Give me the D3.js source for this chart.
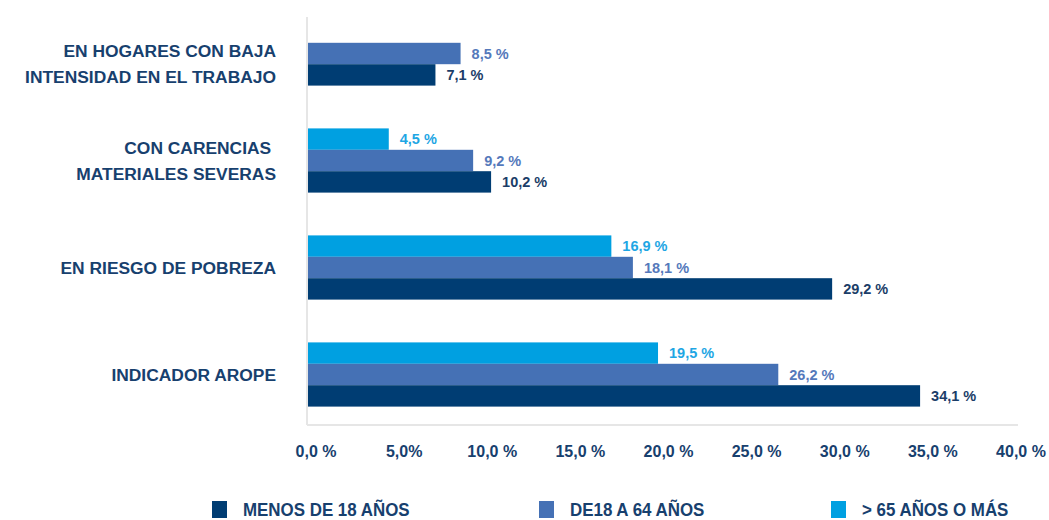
<!DOCTYPE html>
<html>
<head>
<meta charset="utf-8">
<script src="https://cdn.jsdelivr.net/npm/d3@7"></script>
<style>
  body { margin: 0; background: #fff; }
  svg text { font-family: "Liberation Sans", Arial, sans-serif; font-weight: bold; }
</style>
</head>
<body>
<div id="content"></div>
<script>
// categories, top to bottom (each label split into lines)
var categories = ["hogares", "carencias", "pobreza", "arope"];
var categoryLines = [
    ["EN HOGARES CON BAJA", "INTENSIDAD EN EL TRABAJO"],
    ["CON CARENCIAS ", "MATERIALES SEVERAS"],
    ["EN RIESGO DE POBREZA"],
    ["INDICADOR AROPE"]
];

// series values (%), null = no bar
var seriesNames = ["> 65 AÑOS O MÁS", "DE18 A 64 AÑOS", "MENOS DE 18 AÑOS"];
var mayores65 = [null, 4.5, 16.9, 19.5];
var de18a64 = [8.5, 9.2, 18.1, 26.2];
var menos18 = [7.1, 10.2, 29.2, 34.1];

var xTicks = [0, 5, 10, 15, 20, 25, 30, 35, 40];
var xTickLabels = ["0,0 %", "5,0%", "10,0 %", "15,0 %", "20,0 %", "25,0 %", "30,0 %", "35,0 %", "40,0 %"];

var barColors = ["#00a0e1", "#4571b5", "#003d73"];
var labelColors = ["#1ea6e4", "#5579bb", "#1b3d68"];
var textColor = "#17406e";

var width = 1049, height = 520;
var svg = d3.select("#content").append("svg")
    .attr("width", width)
    .attr("height", height);

var xScale = d3.scaleLinear().domain([0, 40]).range([308, 1026]);
// tick labels sit on a slightly narrower span than the bars
var tickScale = xScale.copy().range([316, 1021]);
var yScale = d3.scaleBand().domain(categories).range([0, 428])
    .paddingInner(0.4).paddingOuter(0.2);
var subScale = d3.scaleBand().domain(d3.range(3)).range([0, yScale.bandwidth()]);

// plot frame (left + bottom)
svg.append("line")
    .attr("x1", 307).attr("x2", 307).attr("y1", 17).attr("y2", 425)
    .attr("stroke", "#e6e6e6").attr("stroke-width", 2);
svg.append("line")
    .attr("x1", 307).attr("x2", 1018).attr("y1", 425).attr("y2", 425)
    .attr("stroke", "#e6e6e6").attr("stroke-width", 2);

var allSeries = [mayores65, de18a64, menos18];
var rows = [];
allSeries.forEach(function (values, s) {
    values.forEach(function (v, i) {
        if (v != null) rows.push({ s: s, cat: categories[i], v: v });
    });
});

svg.append("g").selectAll("rect")
    .data(rows)
    .enter()
    .append("rect")
    .attr("x", xScale(0))
    .attr("y", function (d) { return yScale(d.cat) + subScale(d.s); })
    .attr("width", function (d) { return xScale(d.v) - xScale(0); })
    .attr("height", subScale.bandwidth())
    .attr("fill", function (d) { return barColors[d.s]; });

svg.append("g").selectAll("text")
    .data(rows)
    .enter()
    .append("text")
    .attr("x", function (d) { return xScale(d.v) + 11; })
    .attr("y", function (d) { return yScale(d.cat) + subScale(d.s) + subScale.bandwidth() / 2 + 5; })
    .attr("font-size", 14.5)
    .attr("fill", function (d) { return labelColors[d.s]; })
    .text(function (d) { return d3.format(".1f")(d.v).replace(".", ",") + " %"; });

// category labels, centred on the bars that exist in each group
categories.forEach(function (c, i) {
    var lines = categoryLines[i];
    var present = rows.filter(function (r) { return r.cat === c; });
    var top = d3.min(present, function (r) { return yScale(c) + subScale(r.s); });
    var bottom = d3.max(present, function (r) { return yScale(c) + subScale(r.s) + subScale.bandwidth(); });
    var mid = (top + bottom) / 2;
    var lh = 26;
    lines.forEach(function (line, j) {
        svg.append("text")
            .attr("x", 276)
            .attr("y", mid + (j - (lines.length - 1) / 2) * lh + 6)
            .attr("text-anchor", "end")
            .attr("font-size", 17.4)
            .attr("fill", textColor)
            .attr("xml:space", "preserve")
            .text(line);
    });
});

// x axis tick labels
svg.append("g").selectAll("text")
    .data(xTicks)
    .enter()
    .append("text")
    .attr("x", function (d) { return tickScale(d); })
    .attr("y", 457)
    .attr("text-anchor", "middle")
    .attr("font-size", 16)
    .attr("fill", textColor)
    .text(function (d, i) { return xTickLabels[i]; });

// legend
var legendItems = [
    { name: seriesNames[2], color: barColors[2], x: 212 },
    { name: seriesNames[1], color: barColors[1], x: 539 },
    { name: seriesNames[0], color: barColors[0], x: 831 }
];
var legend = svg.append("g").selectAll("g")
    .data(legendItems)
    .enter()
    .append("g")
    .attr("transform", function (d) { return "translate(" + d.x + ",501)"; });
legend.append("rect")
    .attr("width", 15).attr("height", 17)
    .attr("fill", function (d) { return d.color; });
legend.append("text")
    .attr("transform", "translate(31,15) scale(0.94,1)")
    .attr("font-size", 18)
    .attr("fill", textColor)
    .text(function (d) { return d.name; });
</script>
</body>
</html>
